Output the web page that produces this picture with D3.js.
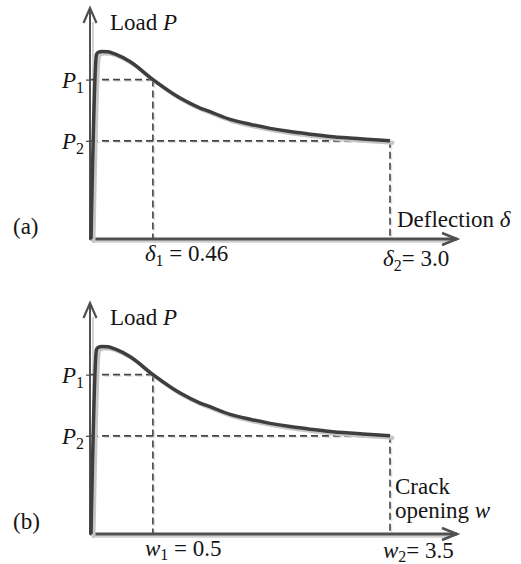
<!DOCTYPE html>
<html><head><meta charset="utf-8">
<script src="https://cdn.jsdelivr.net/npm/d3@7"></script>
<style>
body{margin:0;background:#fff}
text{font-family:"Liberation Serif","Times New Roman",serif;fill:#151515;font-size:23px}
</style>
</head><body><svg id="c" width="521" height="564"></svg>
<script>
// Schematic curve, normalised: x = 0 at origin, 1 at end point; P = 0 at axis, 1 at top of arrow
const curveX = [0, 0.018, 0.023, 0.037, 0.057, 0.080, 0.130, 0.207, 0.298, 0.365, 0.398, 0.465, 0.532, 0.599, 0.666, 0.726, 0.809, 0.923, 1.0];
const curveP = [0, 0.797, 0.807, 0.812, 0.811, 0.801, 0.768, 0.690, 0.610, 0.567, 0.551, 0.518, 0.497, 0.479, 0.465, 0.455, 0.443, 0.432, 0.425];
const loadNames = ["1", "2"];          // P subscripts
const loadValues = [0.690, 0.425];     // P1, P2 levels
const panelNames = ["(a)", "(b)"];
const xSymbols = ["δ", "w"];
const x1Values = ["0.46", "0.5"];
const x2Values = ["3.0", "3.5"];
const x1Pos = [0.207, 0.207];
const x2Pos = [1.0, 1.0];
const xAxisTitles = [["Deflection ", "δ"], ["Crack", "opening ", "w"]];

const svg = d3.select("#c");
svg.append("rect").attr("width", 521).attr("height", 564).attr("fill", "#fff");

const dark = "#3e3e3e", axisCol = "#505050", shadow = "#c6c6c6";
const layout = [{top: 8, base: 239, l1: 22, l2: 27, sub: 5}, {top: 303, base: 534, l1: 22, l2: 24, sub: 4}];

layout.forEach((L, i) => {
  const g = svg.append("g");
  const x = d3.scaleLinear().domain([0, 1]).range([91, 390]);
  const y = d3.scaleLinear().domain([0, 1]).range([L.base, L.top]);
  const ax = 90, tipX = 457;

  // axis shadows
  g.append("line").attr("x1", ax + 3).attr("x2", ax + 3).attr("y1", L.base).attr("y2", L.top + 14)
    .attr("stroke", "#d4d4d4").attr("stroke-width", 2);
  g.append("line").attr("x1", ax + 2).attr("x2", tipX - 6).attr("y1", L.base + 2.5).attr("y2", L.base + 2.5)
    .attr("stroke", "#cfcfcf").attr("stroke-width", 2.5);

  // dashed guides with faint shadow
  const guides = [
    [x.range()[0], y(loadValues[0]), x(x1Pos[i]), y(loadValues[0])],
    [x(x1Pos[i]), y(loadValues[0]), x(x1Pos[i]), L.base],
    [x.range()[0], y(loadValues[1]), x(x2Pos[i]), y(loadValues[1])],
    [x(x2Pos[i]), y(loadValues[1]), x(x2Pos[i]), L.base]
  ];
  guides.forEach(d => {
    g.append("line").attr("x1", d[0] + 1.5).attr("y1", d[1] + 1.5).attr("x2", d[2] + 1.5).attr("y2", d[3] + 1.5)
      .attr("stroke", "#dedede").attr("stroke-width", 1.5).attr("stroke-dasharray", "7,4");
    g.append("line").attr("x1", d[0]).attr("y1", d[1]).attr("x2", d[2]).attr("y2", d[3])
      .attr("stroke", "#444").attr("stroke-width", 1.6).attr("stroke-dasharray", "7,4");
  });

  // axes
  g.append("line").attr("x1", ax).attr("x2", ax).attr("y1", L.base + 1).attr("y2", L.top)
    .attr("stroke", axisCol).attr("stroke-width", 2);
  g.append("line").attr("x1", ax).attr("x2", tipX).attr("y1", L.base).attr("y2", L.base)
    .attr("stroke", axisCol).attr("stroke-width", 3);
  g.append("path").attr("d", `M${ax - 6.5},${L.top + 15}L${ax},${L.top}L${ax + 6.5},${L.top + 15}`)
    .attr("fill", "none").attr("stroke", axisCol).attr("stroke-width", 2.2);
  g.append("path").attr("d", `M${tipX - 15},${L.base - 6}L${tipX},${L.base}L${tipX - 15},${L.base + 6}`)
    .attr("fill", "none").attr("stroke", axisCol).attr("stroke-width", 2.5);

  // small ticks at P1, P2
  const yAxis = d3.axisLeft(y).tickValues(loadValues).tickSize(4).tickFormat("");
  const ya = g.append("g").attr("transform", `translate(${ax},0)`).call(yAxis);
  ya.select(".domain").remove();
  ya.selectAll(".tick line").attr("stroke", "#444").attr("stroke-width", 1.2);

  // curve
  const pts = curveX.map((v, k) => [v, curveP[k]]);
  const line = d3.line().x(d => x(d[0])).y(d => y(d[1])).curve(d3.curveMonotoneX);
  g.append("path").attr("d", line(pts)).attr("transform", "translate(2.5,2)")
    .attr("fill", "none").attr("stroke", shadow).attr("stroke-width", 4).attr("stroke-linecap", "round");
  g.append("path").attr("d", line(pts))
    .attr("fill", "none").attr("stroke", dark).attr("stroke-width", 3.5).attr("stroke-linejoin", "round");

  // texts
  const t = g.append("text").attr("x", 110).attr("y", L.top + 22);
  t.append("tspan").text("Load ");
  t.append("tspan").attr("font-style", "italic").text("P");

  loadValues.forEach((v, k) => {
    const lt = g.append("text").attr("x", 84).attr("y", y(v) + 8).attr("text-anchor", "end");
    lt.append("tspan").attr("font-style", "italic").text("P");
    lt.append("tspan").attr("font-size", "16px").attr("dy", 5).text(loadNames[k]);
  });

  g.append("text").attr("x", 13).attr("y", L.base - 5).text(panelNames[i]);

  const l1 = g.append("text").attr("x", x(x1Pos[i]) - 8).attr("y", L.base + L.l1);
  l1.append("tspan").attr("font-style", "italic").text(xSymbols[i]);
  l1.append("tspan").attr("font-size", "16px").attr("dy", L.sub).text("1");
  l1.append("tspan").attr("dy", -L.sub).text(" = " + x1Values[i]);

  const l2 = g.append("text").attr("x", x(x2Pos[i]) - 7).attr("y", L.base + L.l2);
  l2.append("tspan").attr("font-style", "italic").text(xSymbols[i]);
  l2.append("tspan").attr("font-size", "16px").attr("dy", L.sub).text("2");
  l2.append("tspan").attr("dy", -L.sub).text("= " + x2Values[i]);

  if (i === 0) {
    const at = g.append("text").attr("x", 397).attr("y", L.base - 12);
    at.append("tspan").text(xAxisTitles[0][0]);
    at.append("tspan").attr("font-style", "italic").text(xAxisTitles[0][1]);
  } else {
    g.append("text").attr("x", 395).attr("y", L.base - 40).attr("font-size", "21px").text(xAxisTitles[1][0]);
    const at = g.append("text").attr("x", 395).attr("y", L.base - 16).attr("font-size", "21px");
    at.append("tspan").text(xAxisTitles[1][1]);
    at.append("tspan").attr("font-style", "italic").text(xAxisTitles[1][2]);
  }
});
</script></body></html>
